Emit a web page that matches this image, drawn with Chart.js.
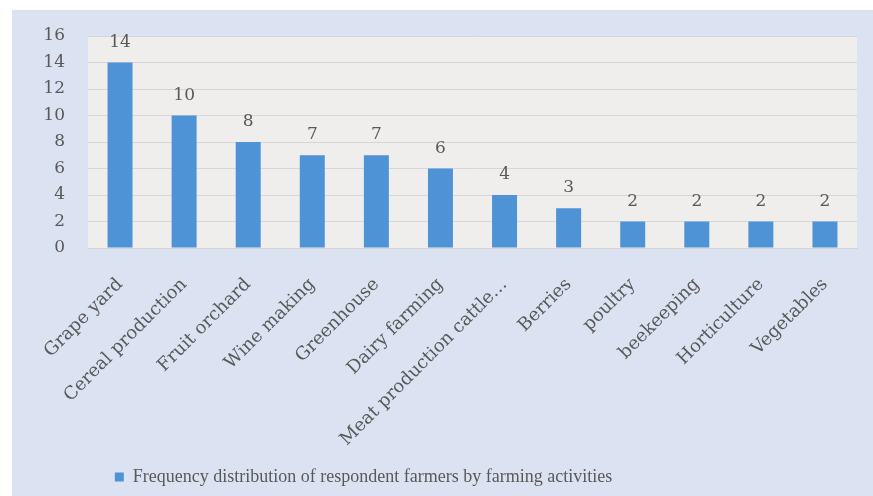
<!DOCTYPE html>
<html>
<head>
<meta charset="utf-8">
<script src="https://cdn.jsdelivr.net/npm/chart.js@4.4.1/dist/chart.umd.min.js"></script>
<style>
  html, body { margin: 0; padding: 0; background: #ffffff; }
  #panel { position: absolute; left: 12px; top: 10px; width: 861px; height: 486px; background: #dbe3f3; }
  #chart { display: block; }
</style>
</head>
<body>
<div id="panel"><canvas id="chart" width="861" height="486"></canvas></div>
<script>
// Farming activities and number of respondent farmers in each
const categories = [
  'Grape yard', 'Cereal production', 'Fruit orchard', 'Wine making',
  'Greenhouse', 'Dairy farming', 'Meat production cattle\u2026', 'Berries',
  'poultry', 'beekeeping', 'Horticulture', 'Vegetables'
];
const farmers = [14, 10, 8, 7, 7, 6, 4, 3, 2, 2, 2, 2];
const seriesName = 'Frequency distribution of respondent farmers by farming activities';
const yTicks = [0, 2, 4, 6, 8, 10, 12, 14, 16];

const textColor = '#595959';

// Light grey fill behind the plotting area
const plotBackground = {
  id: 'plotBackground',
  beforeDraw(chart) {
    const { ctx, chartArea: a } = chart;
    ctx.save();
    ctx.fillStyle = '#efeeec';
    ctx.fillRect(a.left, a.top, a.right - a.left, a.bottom - a.top);
    ctx.restore();
  }
};

// Value written above each bar
const valueLabels = {
  id: 'valueLabels',
  afterDatasetsDraw(chart) {
    const { ctx } = chart;
    const meta = chart.getDatasetMeta(0);
    ctx.save();
    ctx.font = '17px "DejaVu Serif"';
    ctx.fillStyle = textColor;
    ctx.textAlign = 'center';
    ctx.textBaseline = 'alphabetic';
    meta.data.forEach((bar, i) => {
      ctx.fillText(String(chart.data.datasets[0].data[i]), bar.x, bar.y - 16);
    });
    ctx.restore();
  }
};

// Move the legend a little to the left of the canvas centre
const legendOffset = {
  id: 'legendOffset',
  afterUpdate(chart) {
    const lg = chart.legend;
    if (!lg) return;
    lg.left -= 71;
    lg.right -= 71;
  }
};

new Chart(document.getElementById('chart'), {
  type: 'bar',
  data: {
    labels: categories,
    datasets: [{
      label: seriesName,
      data: farmers,
      backgroundColor: '#4f93d7',
      borderWidth: 0,
      categoryPercentage: 1,
      barPercentage: 0.39
    }]
  },
  options: {
    responsive: false,
    animation: false,
    layout: { padding: { left: 0, right: 16, top: 26, bottom: 0 } },
    plugins: {
      legend: {
        position: 'bottom',
        labels: {
          color: textColor,
          font: { family: '"Liberation Serif"', size: 18 },
          boxWidth: 9,
          boxHeight: 9,
          padding: 10
        }
      },
      tooltip: { enabled: false }
    },
    scales: {
      x: {
        grid: { display: false },
        border: { display: true, color: '#d4d4d4' },
        ticks: {
          color: textColor,
          font: { family: '"DejaVu Serif"', size: 18 },
          minRotation: 45,
          maxRotation: 45,
          autoSkip: false,
          padding: 18
        },
        afterFit(scale) { scale.height = 210; }
      },
      y: {
        min: 0,
        max: 16,
        afterBuildTicks(scale) { scale.ticks = yTicks.map(v => ({ value: v })); },
        grid: { color: '#d6d6d6', drawTicks: true, tickLength: 23, tickColor: 'rgba(0,0,0,0)' },
        border: { display: false },
        ticks: {
          color: textColor,
          font: { family: '"DejaVu Serif"', size: 17 },
          padding: 0
        },
        afterFit(scale) { scale.width = 76; }
      }
    }
  },
  plugins: [plotBackground, valueLabels, legendOffset]
});
</script>
</body>
</html>
